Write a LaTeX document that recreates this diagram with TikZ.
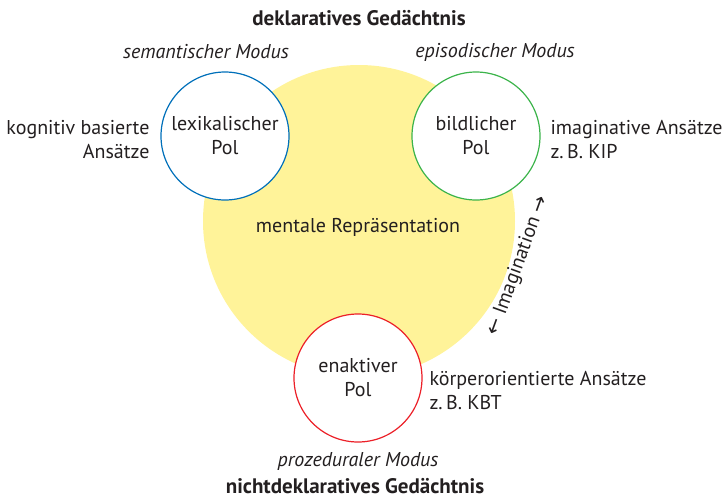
\documentclass[tikz,border=0pt]{standalone}
\usepackage{fontspec}
\setmainfont{PT Sans}
\newfontfamily\arrowfont{DejaVu Sans}
\usetikzlibrary{positioning}

\definecolor{txtgray}{RGB}{35,31,32}
\definecolor{reprfill}{RGB}{255,243,153}
\definecolor{lexblue}{RGB}{0,112,186}
\definecolor{bildgreen}{RGB}{60,180,75}
\definecolor{enakred}{RGB}{236,32,40}

\begin{document}
\begin{tikzpicture}[
    x=1pt, y=-1pt,
    every node/.style={text=txtgray, font=\fontsize{20}{24}\selectfont},
    pol/.style={circle, draw, line width=1.2pt, fill=white, minimum size=128pt, inner sep=0pt, align=center},
    modus/.style={font=\fontsize{20}{24}\selectfont\itshape},
    memory/.style={font=\fontsize{21}{24}\selectfont\bfseries, inner sep=1pt},
    approach/.style={align=left, anchor=west},
]
\useasboundingbox (0,0) rectangle (724,499);

% central representation
\node[circle, fill=reprfill, minimum size=312pt, inner sep=0pt] (repr) at (359,221) {};
\node (reprlabel) at (358,227) {mentale Repräsentation};

% the three poles
\node[pol, draw=lexblue] (lex) at (225,136) {lexikalischer\\Pol};
\node[pol, draw=bildgreen] (bild) at (476,136) {bildlicher\\Pol};
\node[pol, draw=enakred] (enak) at (358,378) {enaktiver\\Pol};

% modes
\node[modus] (semmod) at (206,52) {semantischer Modus};
\node[modus] (epimod) at (495,52) {episodischer Modus};
\node[modus] (promod) at (358,461) {prozeduraler Modus};

% memory systems
\node[memory] (dekl) at (359,18) {deklaratives Gedächtnis};
\node[memory] (nichtdekl) at (355,486) {nichtdeklaratives Gedächtnis};

% approaches
\node[align=right, anchor=east] (kogn) at (153,140) {kognitiv basierte\\Ansätze};
\node[approach] (imag) at (547,140) {imaginative Ansätze\\z.\,B. KIP};
\node[approach] (koerper) at (426,391) {körperorientierte Ansätze\\z.\,B. KBT};

% imagination
\node[rotate=70, inner sep=0pt] (imagination) at (518,266) {{\arrowfont ←} Imagination {\arrowfont →}};

\end{tikzpicture}
\end{document}
